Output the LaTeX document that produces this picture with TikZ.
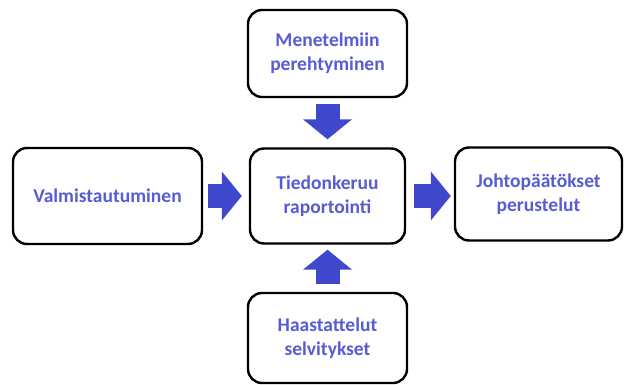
\documentclass[tikz,border=0pt]{standalone}
\usepackage{fontspec}
\setmainfont{Carlito}
\usetikzlibrary{arrows.meta}

\definecolor{arrowblue}{RGB}{63,72,204}
\definecolor{textblue}{RGB}{88,92,212}

\tikzset{
  phase/.style={draw=black, line width=2.4pt, rounded corners=14pt, fill=white,
    align=center, text=textblue, font=\fontsize{19.5}{24}\selectfont\bfseries,
    inner sep=0pt},
  blockarrow/.style={draw=arrowblue, line width=24pt,
    -{Triangle[length=20pt,width=48pt]}}
}

\begin{document}
\begin{tikzpicture}[x=1pt,y=-1pt]
  \useasboundingbox (0,0) rectangle (625,385);
  % boxes
  \node[phase, minimum width=189pt, minimum height=96pt] (prep) at (107.5,196) {Valmistautuminen};
  \node[phase, minimum width=155pt, minimum height=95pt] (collect) at (327.5,196) {Tiedonkeruu\\raportointi};
  \node[phase, minimum width=167pt, minimum height=93pt] (concl) at (538.5,194) {Johtopäätökset\\perustelut};
  \node[phase, minimum width=159pt, minimum height=87pt] (methods) at (327.5,53.5) {Menetelmiin\\perehtyminen};
  \node[phase, minimum width=159pt, minimum height=90pt] (interv) at (327.5,338) {Haastattelut\\selvitykset};
  % arrows
  \draw[blockarrow, shorten <=5pt, shorten >=7pt] (prep.east) -- (prep.east -| collect.west);
  \draw[blockarrow, shorten <=8pt, shorten >=3pt] (collect.east) -- (collect.east -| concl.west);
  \draw[blockarrow, shorten <=6pt, shorten >=8pt] (methods.south) -- (collect.north);
  \draw[blockarrow, shorten <=8pt, shorten >=5pt] (interv.north) -- (collect.south);
\end{tikzpicture}
\end{document}
